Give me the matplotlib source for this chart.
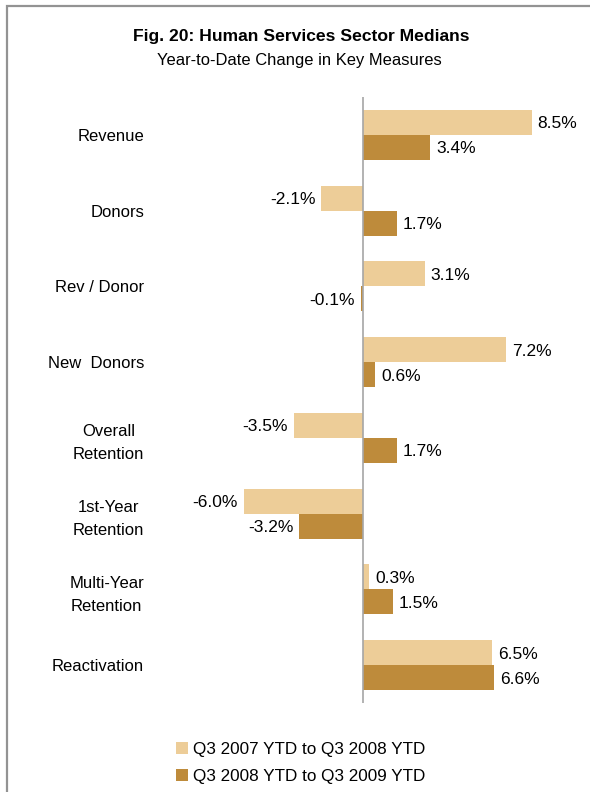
import matplotlib.pyplot as plt
from matplotlib.patches import Rectangle

plt.rcParams['font.family'] = ['Liberation Sans', 'DejaVu Sans']

categories = ['Revenue', 'Donors', 'Rev / Donor', 'New  Donors',
              'Overall\nRetention', '1st-Year\nRetention',
              'Multi-Year\nRetention', 'Reactivation']
series_names = ['Q3 2007 YTD to Q3 2008 YTD', 'Q3 2008 YTD to Q3 2009 YTD']
change_0708 = [8.5, -2.1, 3.1, 7.2, -3.5, -6.0, 0.3, 6.5]
change_0809 = [3.4, 1.7, -0.1, 0.6, 1.7, -3.2, 1.5, 6.6]

LIGHT = '#EDCD98'
DARK = '#BE8B3B'

W, H = 590, 792
fig = plt.figure(figsize=(W / 100, H / 100), dpi=100)

# frame around the whole figure (runs off the right and bottom edges)
fig.patches.append(Rectangle((7 / W, -0.05), 1.1, 1 - 6 / H + 0.05,
                             transform=fig.transFigure, fill=False,
                             edgecolor='#939393', linewidth=1.6))

fig.text(301 / W, 1 - 36 / H, 'Fig. 20: Human Services Sector Medians',
         ha='center', va='center', fontsize=12.6, fontweight='bold')
fig.text(299 / W, 1 - 60 / H, 'Year-to-Date Change in Key Measures',
         ha='center', va='center', fontsize=11.9)

# axes placed so zero sits at x=363 px, rows span y=97..703 px
ax_left, ax_right = 200, 560
ax_top, ax_bot = 97, 703
ax = fig.add_axes([ax_left / W, 1 - ax_bot / H,
                   (ax_right - ax_left) / W, (ax_bot - ax_top) / H])
px_per_pct = 19.85
ax.set_xlim((ax_left - 363) / px_per_pct, (ax_right - 363) / px_per_pct)
n = len(categories)
ax.set_ylim(n - 0.5, -0.5)

bar_h = 25 / 75.75
ys = list(range(n))
ax.barh([y - bar_h / 2 for y in ys], change_0708, height=bar_h,
        color=LIGHT, label=series_names[0])
ax.barh([y + bar_h / 2 for y in ys], change_0809, height=bar_h,
        color=DARK, label=series_names[1])

off = 6 / px_per_pct
for vals, sign in ((change_0708, -1), (change_0809, 1)):
    for y, v in zip(ys, vals):
        yy = y + sign * bar_h / 2 + 0.02
        if v >= 0:
            ax.text(v + off, yy, f'{v:.1f}%', ha='left', va='center', fontsize=12.5)
        else:
            ax.text(v - off, yy, f'{v:.1f}%', ha='right', va='center', fontsize=12.5)

ax.axvline(0, color='#a6a6a6', linewidth=1.2)

ax.set_yticks(ys)
ax.set_yticklabels(categories, fontsize=12, multialignment='center',
                   linespacing=1.65)
ax.tick_params(axis='y', length=0, pad=(ax_left - 144) * 0.72)
ax.set_xticks([])
for s in ax.spines.values():
    s.set_visible(False)

leg = fig.legend(loc='upper left', bbox_to_anchor=(176 / W, 1 - 742 / H),
                 frameon=False, fontsize=12.3, handlelength=0.7,
                 handleheight=0.7, handletextpad=0.3, labelspacing=0.72,
                 borderaxespad=0, borderpad=0)

fig.savefig('out.png', dpi=100)
